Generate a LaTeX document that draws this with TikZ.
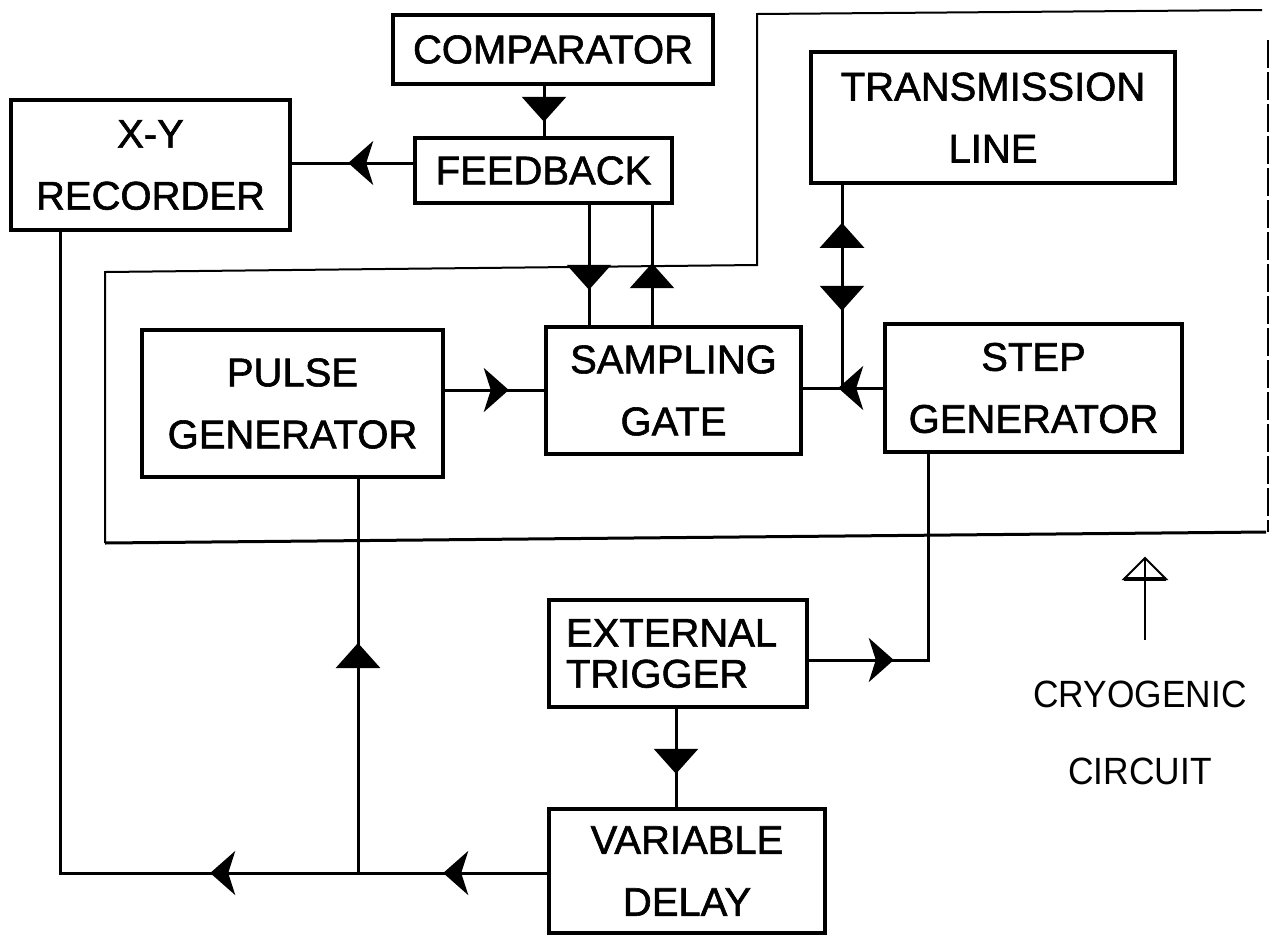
\documentclass[tikz,border=0pt]{standalone}
\usepackage{fontspec}
\setmainfont{Liberation Sans}
\newfontfamily\boxfont{Liberation Sans}[FakeBold=1.5]
\newfontfamily\cryofont{Liberation Sans}[FakeStretch=0.93]
\usetikzlibrary{arrows.meta,decorations.markings}
\tikzset{
  vtri/.tip={Triangle[width=22pt,length=12.5pt]},
  htri/.tip={Stealth[width=22pt,length=12.5pt,inset=3.5pt]},
  box/.style={draw, line width=1.8pt, inner sep=0pt, align=center,
    font=\boxfont\fontsize{20}{31}\selectfont},
  conn/.style={line width=1.5pt, line join=miter},
  vmark/.style={postaction={decorate,decoration={markings,mark=at position #1 with {\arrow{vtri}}}}},
  vmarkr/.style={postaction={decorate,decoration={markings,mark=at position #1 with {\arrowreversed{vtri}}}}},
  hmark/.style={postaction={decorate,decoration={markings,mark=at position #1 with {\arrow{htri}}}}},
  cryoline/.style={line width=1pt}
}
\begin{document}
\begin{tikzpicture}[x=0.5pt,y=-0.5pt]
\useasboundingbox (0,0) rectangle (1274,938);
% cryogenic boundary
\draw[cryoline] (105,543) -- (105,272) -- (757,265) -- (757,14) -- (1262,10);
\draw[cryoline, dash pattern=on 14pt off 2pt] (1268,40) -- (1268,532);
\draw[line width=1.5pt] (1266,532) -- (105,543);

% boxes
\node[box, minimum width=160pt, minimum height=34.5pt] (comp) at (553,49.5) {COMPARATOR};
\node[box, minimum width=128.5pt, minimum height=32.5pt] (fb) at (543.5,170.5) {FEEDBACK};
\node[box, minimum width=139.5pt, minimum height=65pt, font=\boxfont\fontsize{20}{31}\selectfont] (xy) at (150.5,165) {X-Y\\RECORDER};
\node[box, minimum width=182pt, minimum height=65.5pt] (tl) at (993,117.5) {TRANSMISSION\\LINE};
\node[box, minimum width=127.5pt, minimum height=63.5pt] (sg) at (673.5,390.5) {SAMPLING\\GATE};
\node[box, minimum width=150.5pt, minimum height=73.5pt] (pg) at (292.5,403.5) {PULSE\\GENERATOR};
\node[box, minimum width=148.5pt, minimum height=64pt] (st) at (1033.5,388) {STEP\\GENERATOR};
\node[box, minimum width=129pt, minimum height=53.5pt, align=left, text width=112pt,
      font=\boxfont\fontsize{20}{20.5}\selectfont] (et) at (678,653.5) {EXTERNAL\\TRIGGER};
\node[box, minimum width=138pt, minimum height=62pt] (vd) at (687,871) {VARIABLE\\DELAY};

% junctions and corners
\coordinate (jtl) at (842,388);
\coordinate (cst) at (928,660);
\coordinate (cxy) at (60,873);
\coordinate (jpg) at (358,873);

% connectors
\draw[conn, vmark=18pt] (544,0 |- comp.south) -- (544,0 |- fb.north);
\draw[conn, hmark=32.5pt] (0,163 -| fb.west) -- (0,163 -| xy.east);
\draw[conn, vmark=42.5pt] (589,0 |- fb.south) -- (589,0 |- sg.north);
\draw[conn, vmark=31pt] (652,0 |- sg.north) -- (652,0 |- fb.south);
\draw[conn, vmarkr=19pt, vmark=63pt] (jtl |- tl.south) -- (jtl);
\draw[conn, hmark=22.5pt] (st.west) -- (st.west -| sg.east);
\draw[conn, hmark=32pt] (0,390 -| pg.east) -- (0,390 -| sg.west);
\draw[conn, hmark=42.5pt] (cst -| et.east) -- (cst) -- (cst |- st.south);
\draw[conn, vmark=32.5pt] (676,0 |- et.south) -- (676,0 |- vd.north);
\draw[conn, hmark=52pt, hmark=168.5pt] (cxy -| vd.west) -- (cxy) -- (cxy |- xy.south);
\draw[conn, vmark=115pt] (jpg) -- (jpg |- pg.south);

% cryogenic label
\node[font=\cryofont\fontsize{19}{38.5}\selectfont, align=center, inner sep=0pt] (cryo) at (1140,733) {CRYOGENIC\\CIRCUIT};
\coordinate (ctail) at (1145,640);
\coordinate (ctip) at (1145,558);
\draw[line width=1pt] (ctail) -- (ctip);
\draw[line width=1pt, line join=miter] (1124,579) -- (ctip) -- (1166,579) -- cycle;
\draw[line width=2pt] (1124,579) -- (1166,579);
\end{tikzpicture}
\end{document}
